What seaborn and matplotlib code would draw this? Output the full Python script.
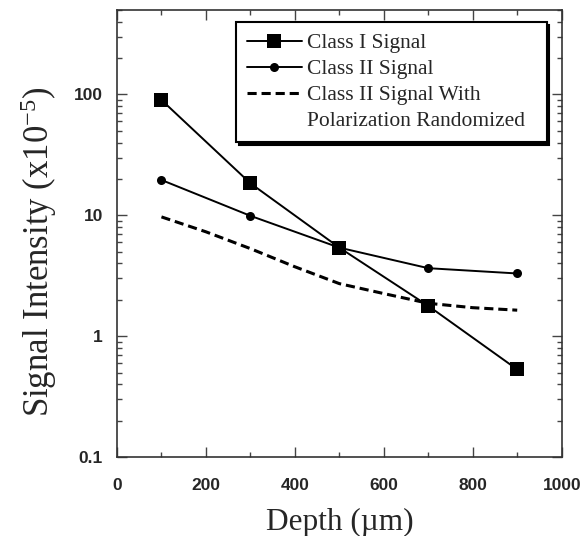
import matplotlib
matplotlib.use("Agg")
import matplotlib.pyplot as plt
import matplotlib.ticker as mticker
from matplotlib.lines import Line2D
import seaborn as sns

depth = [100, 300, 500, 700, 900]
class1 = [90, 18.4, 5.4, 1.78, 0.53]
class2 = [19.6, 9.9, 5.4, 3.65, 3.3]

depth_rand = [100, 200, 300, 400, 500, 600, 700, 800, 900]
class2_rand = [9.7, 7.3, 5.3, 3.75, 2.72, 2.25, 1.87, 1.72, 1.64]

sns.set_style("ticks")
plt.rcParams["font.family"] = ["Liberation Serif", "DejaVu Serif"]
plt.rcParams["mathtext.default"] = "regular"

fig = plt.figure(figsize=(5.84, 5.36), dpi=100)
ax = fig.add_axes([0.2003, 0.1474, 0.7615, 0.834])

dash = (0, (3, 1.6))
sns.lineplot(x=depth, y=class1, ax=ax, color="black", lw=1.4, marker="s",
             markersize=10, markeredgewidth=0, errorbar=None)
sns.lineplot(x=depth, y=class2, ax=ax, color="black", lw=1.4, marker="o",
             markersize=6.5, markeredgewidth=0, errorbar=None)
sns.lineplot(x=depth_rand, y=class2_rand, ax=ax, color="black", lw=2.2,
             linestyle=dash, errorbar=None)

ax.set_yscale("log")
ax.set_xlim(0, 1000)
ax.set_ylim(0.1, 500)

ax.xaxis.set_major_locator(mticker.MultipleLocator(200))
ax.xaxis.set_minor_locator(mticker.MultipleLocator(100))
ax.yaxis.set_major_locator(mticker.FixedLocator([0.1, 1, 10, 100]))
ax.yaxis.set_major_formatter(mticker.FuncFormatter(lambda v, p: f"{v:g}"))
ax.yaxis.set_minor_locator(mticker.LogLocator(base=10, subs=range(2, 10)))
ax.yaxis.set_minor_formatter(mticker.NullFormatter())

ax.tick_params(which="both", direction="in", top=True, right=True,
               width=1, color="#444444")
ax.tick_params(which="major", length=7)
ax.tick_params(which="minor", length=3.5)
for lab in ax.get_xticklabels() + ax.get_yticklabels():
    lab.set_fontfamily("Liberation Sans")
    lab.set_fontweight("bold")
    lab.set_fontsize(12.5)
ax.tick_params(axis="x", pad=15)
ax.tick_params(axis="y", pad=10)

for sp in ax.spines.values():
    sp.set_linewidth(1.2)
    sp.set_color("#333333")

ax.set_xlabel("Depth (\u00b5m)", fontsize=22.5, labelpad=11)
ax.set_ylabel("Signal Intensity (x10$^{-5}$)", fontsize=25, labelpad=11)
ax.yaxis.label.set_y(0.46)

handles = [
    Line2D([], [], color="black", lw=1.4, marker="s", markersize=10, markeredgewidth=0),
    Line2D([], [], color="black", lw=1.4, marker="o", markersize=6.5, markeredgewidth=0),
    Line2D([], [], color="black", lw=2.2, linestyle=dash),
    Line2D([], [], color="none"),
]
labels = ["Class I Signal", "Class II Signal", "Class II Signal With",
          "Polarization Randomized  "]
leg = ax.legend(handles, labels, loc="upper right", bbox_to_anchor=(0.966, 0.972),
                fontsize=15.5, frameon=True, fancybox=False, framealpha=1,
                edgecolor="black", handlelength=2.55, handletextpad=0.25,
                labelspacing=0.27, borderpad=0.5, borderaxespad=0,
                shadow={"color": "black", "alpha": 1})
leg.get_frame().set_linewidth(1.5)

fig.savefig("out.png", dpi=100)
